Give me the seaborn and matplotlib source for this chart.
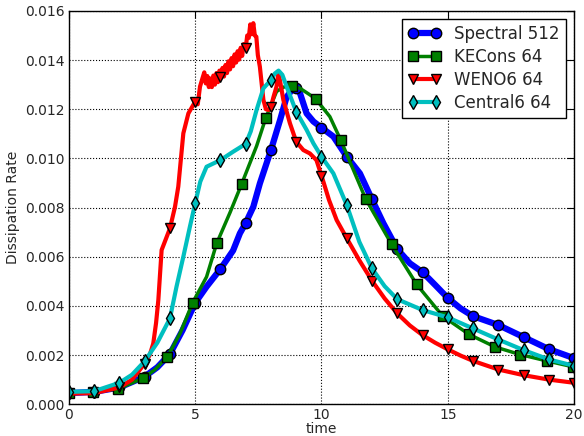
import numpy as np
import seaborn as sns
import matplotlib
matplotlib.use('Agg')
import matplotlib.pyplot as plt
from matplotlib.ticker import FormatStrFormatter

# 데이터 (값 단위: 1e-3)
spectral_t = [0, 1, 2, 3, 3.5, 4, 4.5, 5, 5.45, 6, 6.5, 6.77, 7, 7.3, 7.56, 8, 8.36, 8.62, 8.88,
              9, 9.15, 9.41, 9.68, 10, 10.47, 11, 11.52, 12, 12.45, 13, 13.5, 14, 14.5, 15, 15.5,
              16, 17, 18, 19, 20]
spectral_v = [0.45, 0.5, 0.68, 1.12, 1.5, 2.04, 3.01, 4.12, 4.78, 5.5, 6.25, 6.95, 7.37, 8.03, 8.98,
              10.34, 11.56, 12.5, 12.85, 12.85, 12.65, 11.83, 11.5, 11.25, 10.89, 10.07, 9.39, 8.33,
              7.36, 6.31, 5.73, 5.37, 4.85, 4.32, 3.9, 3.58, 3.22, 2.73, 2.24, 1.87]
spectral_marks = list(range(21))

kecons_t = [0, 0.97, 1.94, 2.92, 3.4, 3.9, 4.4, 4.9, 5.45, 5.85, 6.38, 6.84, 7.43, 7.8, 8.22, 8.5,
            8.82, 9.15, 9.55, 9.77, 10.33, 10.76, 11.75, 12.78, 13.77, 14.8, 15.84, 16.87, 17.86,
            18.92, 19.96, 20]
kecons_v = [0.45, 0.5, 0.62, 1.05, 1.4, 1.93, 2.88, 4.13, 5.18, 6.54, 7.8, 8.96, 10.5, 11.66, 12.72,
            12.9, 12.95, 12.85, 12.58, 12.42, 11.7, 10.75, 8.35, 6.5, 4.87, 3.58, 2.84, 2.33, 2.02,
            1.76, 1.52, 1.5]
kecons_marks = [0, 0.97, 1.94, 2.92, 3.9, 4.9, 5.85, 6.84, 7.8, 8.82, 9.77, 10.76, 11.75, 12.78,
                13.77, 14.8, 15.84, 16.87, 17.86, 18.92, 19.96]

weno_t = [0, 1, 2, 2.5, 3, 3.2, 3.34, 3.45, 3.54, 3.67, 4, 4.2, 4.33, 4.53, 4.73, 5, 5.1, 5.19, 5.3,
          5.36, 5.42, 5.48, 5.54, 5.6, 5.66, 5.72, 5.78, 5.84, 5.9, 5.96, 6, 6.08, 6.14, 6.2, 6.26,
          6.32, 6.38, 6.44, 6.5, 6.56, 6.62, 6.68, 6.74, 6.8, 6.86, 6.92, 7, 7.06, 7.12, 7.18,
          7.24, 7.3, 7.36, 7.42, 7.48, 7.56, 7.7, 7.8, 7.9, 8, 8.1, 8.22, 8.29, 8.35, 8.49, 8.75,
          9, 9.28, 9.54, 9.8, 10, 10.3, 10.6, 11, 11.5, 12, 12.5, 13, 13.5, 14, 14.5, 15, 15.5,
          16, 17, 18, 19, 20]
weno_v = [0.43, 0.45, 0.68, 1.0, 1.65, 2.0, 2.47, 3.3, 4.23, 6.27, 7.15, 8.03, 8.85, 11.02, 11.83,
          12.31, 12.2, 12.92, 13.3, 13.5, 13.05, 13.35, 12.9, 13.25, 12.9, 13.37, 13.0, 13.47,
          13.1, 13.57, 13.3, 13.68, 13.33, 13.8, 13.47, 13.95, 13.62, 14.08, 13.75, 14.23, 13.9,
          14.36, 14.02, 14.5, 14.17, 14.65, 14.5, 15.0, 14.9, 15.45, 15.05, 15.5, 15.0, 14.95,
          14.2, 13.73, 12.38, 12.0, 11.97, 12.1, 12.5, 12.92, 13.46, 13.2, 12.38, 11.43, 10.68,
          10.34, 10.2, 9.93, 9.3, 8.3, 7.49, 6.75, 5.85, 5.02, 4.3, 3.69, 3.2, 2.81, 2.5, 2.23,
          1.98, 1.76, 1.41, 1.18, 1.0, 0.87]
weno_marks = list(range(21))

central_t = [0, 1, 2, 2.5, 3, 3.5, 4, 4.26, 4.53, 4.79, 5, 5.2, 5.45, 6, 6.5, 7, 7.2, 7.43, 7.7, 8,
             8.15, 8.3, 8.45, 8.62, 9, 9.41, 9.68, 10, 10.47, 11, 11.5, 12, 12.5, 13, 14, 15, 16,
             17, 18, 19, 20]
central_v = [0.5, 0.53, 0.87, 1.2, 1.75, 2.5, 3.49, 4.78, 6.0, 7.22, 8.17, 9.05, 9.66, 9.93, 10.27,
             10.59, 11.1, 11.97, 12.85, 13.19, 13.45, 13.57, 13.4, 12.92, 11.9, 11.16, 10.61, 10.07,
             9.39, 8.1, 6.6, 5.52, 4.8, 4.27, 3.83, 3.53, 3.08, 2.63, 2.2, 1.82, 1.56]
central_marks = list(range(21))

series = [
    ('Spectral 512', spectral_t, spectral_v, spectral_marks, 'b', 'o', 4.5),
    ('KECons 64', kecons_t, kecons_v, kecons_marks, 'g', 's', 2.5),
    ('WENO6 64', weno_t, weno_v, weno_marks, 'r', 'v', 3.0),
    ('Central6 64', central_t, central_v, central_marks, 'c', 'd', 3.0),
]

sns.set_style('white')
plt.rcParams['font.family'] = ['DejaVu Sans']

fig, ax = plt.subplots(figsize=(5.84, 4.36), dpi=100)
fig.subplots_adjust(left=0.118, right=0.983, bottom=0.073, top=0.975)

for name, t, v, marks, color, marker, lw in series:
    idx = [i for i, x in enumerate(t) if x in marks]
    sns.lineplot(x=t, y=np.array(v) * 1e-3, ax=ax, color=color, linewidth=lw, label=name,
                 marker=marker, markersize=7.5, markeredgecolor='k', markeredgewidth=1,
                 markevery=idx, errorbar=None, sort=False)

ax.set_xlim(0, 20)
ax.set_ylim(0, 0.016)
ax.set_xticks([0, 5, 10, 15, 20])
ax.set_yticks(np.arange(0, 0.0161, 0.002))
ax.yaxis.set_major_formatter(FormatStrFormatter('%.3f'))
ax.tick_params(axis='both', which='both', direction='in', top=True, right=True,
               length=5, width=0.8, color='k', labelsize=10, pad=3)
ax.grid(True, color='k', linestyle=':', linewidth=0.8)
for s in ax.spines.values():
    s.set_color('k')
    s.set_linewidth(1)
ax.set_xlabel('time', fontsize=10, labelpad=0)
ax.set_ylabel('Dissipation Rate', fontsize=10)

leg = ax.legend(loc='upper right', fontsize=12, numpoints=2, fancybox=False, edgecolor='k',
                framealpha=1, borderaxespad=0.5, handlelength=2, labelspacing=0.3,
                borderpad=0.35, handletextpad=0.8)
leg.get_frame().set_linewidth(1)
for h in leg.get_lines():
    h.set_markevery(None)

fig.savefig('out.png', dpi=100)
